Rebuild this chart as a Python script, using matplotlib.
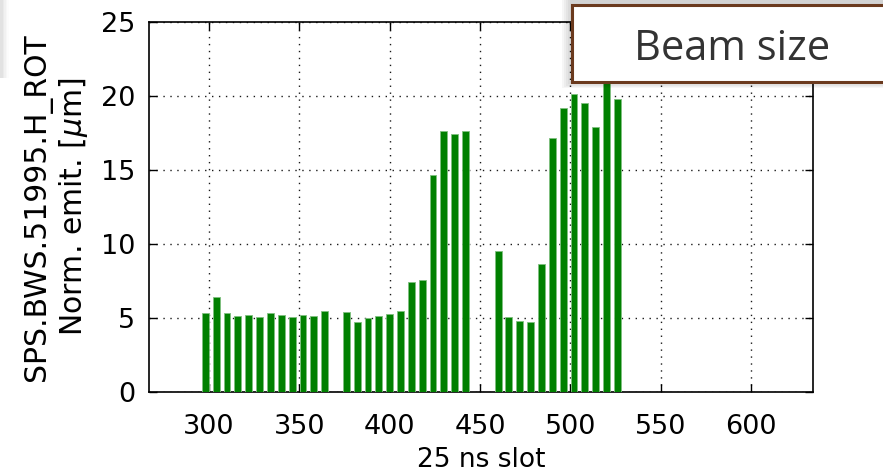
import matplotlib
matplotlib.use("Agg")
import matplotlib.pyplot as plt
from matplotlib.patches import Rectangle
import numpy as np

# bunch slots (25 ns) and normalised emittance, three trains
slots_1 = [298, 304, 310, 316, 322, 328, 334, 340, 346, 352, 358, 364]
emit_1 = [5.35, 6.45, 5.35, 5.16, 5.23, 5.07, 5.34, 5.23, 5.07, 5.23, 5.16, 5.45]

slots_2 = [376, 382, 388, 394, 400, 406, 412, 418, 424, 430, 436, 442]
emit_2 = [5.38, 4.76, 5.03, 5.16, 5.27, 5.50, 7.45, 7.56, 14.65, 17.64, 17.46, 17.64]

slots_3 = [460, 466, 472, 478, 484, 490, 496, 502, 508, 514, 520, 526]
emit_3 = [9.50, 5.09, 4.77, 4.73, 8.62, 17.17, 19.21, 20.13, 19.50, 17.93, 21.8, 19.78]

xticks = [300, 350, 400, 450, 500, 550, 600]
yticks = [0, 5, 10, 15, 20, 25]

W, H = 883, 472
fig = plt.figure(figsize=(W/100, H/100), dpi=100)
ax = fig.add_axes([149/W, 1 - 392/H, 664/W, 370/H])

slots = slots_1 + slots_2 + slots_3
emit = emit_1 + emit_2 + emit_3
ax.bar(slots, emit, width=3.8, color='green', edgecolor='#7fbf7f', linewidth=0.6, zorder=3)

ax.set_xlim(266.8, 634.3)
ax.set_ylim(0, 25)
ax.set_xticks(xticks)
ax.set_yticks(yticks)
ax.grid(True, color='black', linestyle=(0, (1, 4)), linewidth=1.0, alpha=0.9, zorder=1)
ax.tick_params(direction='in', top=True, right=True, length=6, width=1, labelsize=19.5)
ax.tick_params(axis='x', pad=16)
ax.tick_params(axis='y', pad=10)
for s in ax.spines.values():
    s.set_linewidth(1.2)

ax.set_xlabel("25 ns slot", fontsize=19, labelpad=5)
ax.set_ylabel("SPS.BWS.51995.H_ROT\nNorm. emit. [$\\mu$m]", fontsize=21.5, labelpad=8)

# slide overlay: soft shadow strip at left edge
for i, a in enumerate([0.025, 0.035, 0.045, 0.055, 0.065]):
    fig.patches.append(Rectangle((0, 1 - 78/H), (9 - 1.6*i)/W, 78/H, transform=fig.transFigure,
                                 facecolor='gray', edgecolor='none', alpha=a, zorder=5))

# "Beam size" box with soft shadow
for i in range(5):
    d = 2 + 2*i
    fig.patches.append(Rectangle(((572 - d)/W, 1 - (82 + d*0.6)/H), 400/W, (82 + d*0.6)/H,
                                 transform=fig.transFigure, facecolor='black',
                                 edgecolor='none', alpha=0.035, zorder=9))
fig.patches.append(Rectangle((572/W, 1 - 81.5/H), 400/W, 76.5/H, transform=fig.transFigure,
                             facecolor='white', edgecolor='#6b3a1e', linewidth=2.2, zorder=10))
fig.text(732/W, 1 - 60/H, "Beam size", fontsize=30, family='Open Sans', color='#333333',
         ha='center', va='baseline', zorder=11)

fig.savefig("out.png", dpi=100)
